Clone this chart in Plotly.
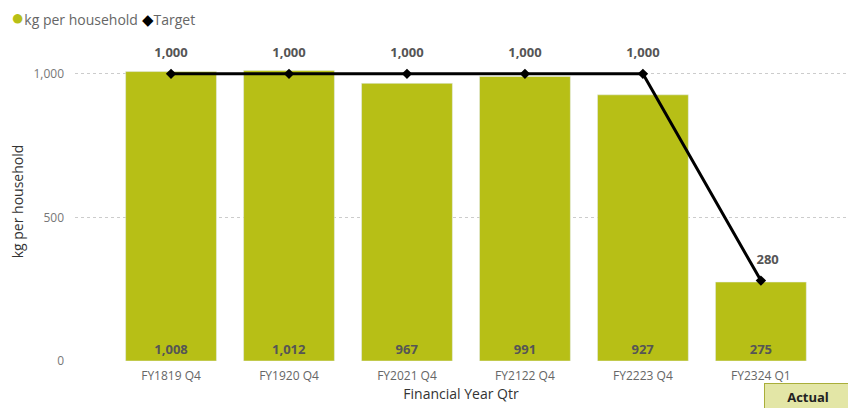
import plotly.graph_objects as go

categories = ["FY1819 Q4", "FY1920 Q4", "FY2021 Q4", "FY2122 Q4", "FY2223 Q4", "FY2324 Q1"]
kg_per_household = [1008, 1012, 967, 991, 927, 275]
target = [1000, 1000, 1000, 1000, 1000, 280]

BAR = "#b7bf16"
LABEL = "#555555"
FONT = "Open Sans, Segoe UI, sans-serif"

fig = go.Figure()

fig.add_trace(go.Bar(
    x=categories, y=kg_per_household, name="kg per household",
    marker=dict(color=BAR),
    text=[f"{v:,}" for v in kg_per_household],
    textposition="inside", insidetextanchor="start",
    textfont=dict(color=LABEL, size=13, family=FONT, weight="bold"),
    cliponaxis=False, showlegend=False,
))

fig.add_trace(go.Scatter(
    x=categories, y=target, name="Target", mode="lines+markers",
    line=dict(color="black", width=3),
    marker=dict(symbol="diamond", size=8, color="black"),
    cliponaxis=False, showlegend=False,
))

# Target data labels, spaced above the line points; the last one nudged right of the descending line
target_labels = [f"{v:,}" for v in target]
target_labels[-1] = "\u00a0\u00a0\u00a0\u00a0" + target_labels[-1]
fig.add_trace(go.Scatter(
    x=categories, y=target, mode="markers+text",
    marker=dict(size=20, color="rgba(0,0,0,0)"),
    text=target_labels, textposition="top center",
    textfont=dict(color=LABEL, size=13, family=FONT, weight="bold"),
    cliponaxis=False, showlegend=False, hoverinfo="skip",
))

fig.update_layout(
    width=848, height=408,
    margin=dict(l=75, r=1, t=42, b=47),
    plot_bgcolor="white", paper_bgcolor="white",
    font=dict(family=FONT, color="#666666", size=12),
    bargap=0.23,
    showlegend=False,
    xaxis=dict(
        range=[-0.814, 5.73],
        tickfont=dict(size=12, color="#666666"),
        ticklabelstandoff=6,
        title=dict(text="Financial Year Qtr", font=dict(size=14, color="#333333"), standoff=5),
        showgrid=False, zeroline=False, showline=False, ticks="",
    ),
    yaxis=dict(
        range=[0, 1111],
        tickvals=[0, 500, 1000], ticktext=["0", "500", "1,000"],
        tickfont=dict(size=12, color="#777777"),
        ticklabelstandoff=10,
        title=dict(text="kg per household", font=dict(size=14, color="#333333"), standoff=6),
        showgrid=True, gridcolor="#cccccc", griddash="dot", gridwidth=1,
        zeroline=False, showline=False, ticks="",
    ),
)

# Legend row
fig.add_annotation(
    text=(f"<span style='color:{BAR};font-size:22px'>●</span>kg per household "
          "<span style='color:black;font-size:15px'>◆</span>Target"),
    xref="paper", yref="paper", x=-0.085, y=1.0 + 26 / 319,
    xanchor="left", yanchor="middle", showarrow=False,
    font=dict(size=14, color="#666666"),
)

# "Actual" badge
fig.add_annotation(
    text="<b>Actual</b>", xref="paper", yref="paper", x=(764 - 75) / 772, y=-22 / 319,
    xanchor="left", yanchor="top", showarrow=False,
    font=dict(size=13, color="#222222"),
    bgcolor="#e3e6a6", bordercolor="#a9ae3a", borderwidth=1,
    width=86, height=26, borderpad=0,
)

fig.write_html("out.html")
